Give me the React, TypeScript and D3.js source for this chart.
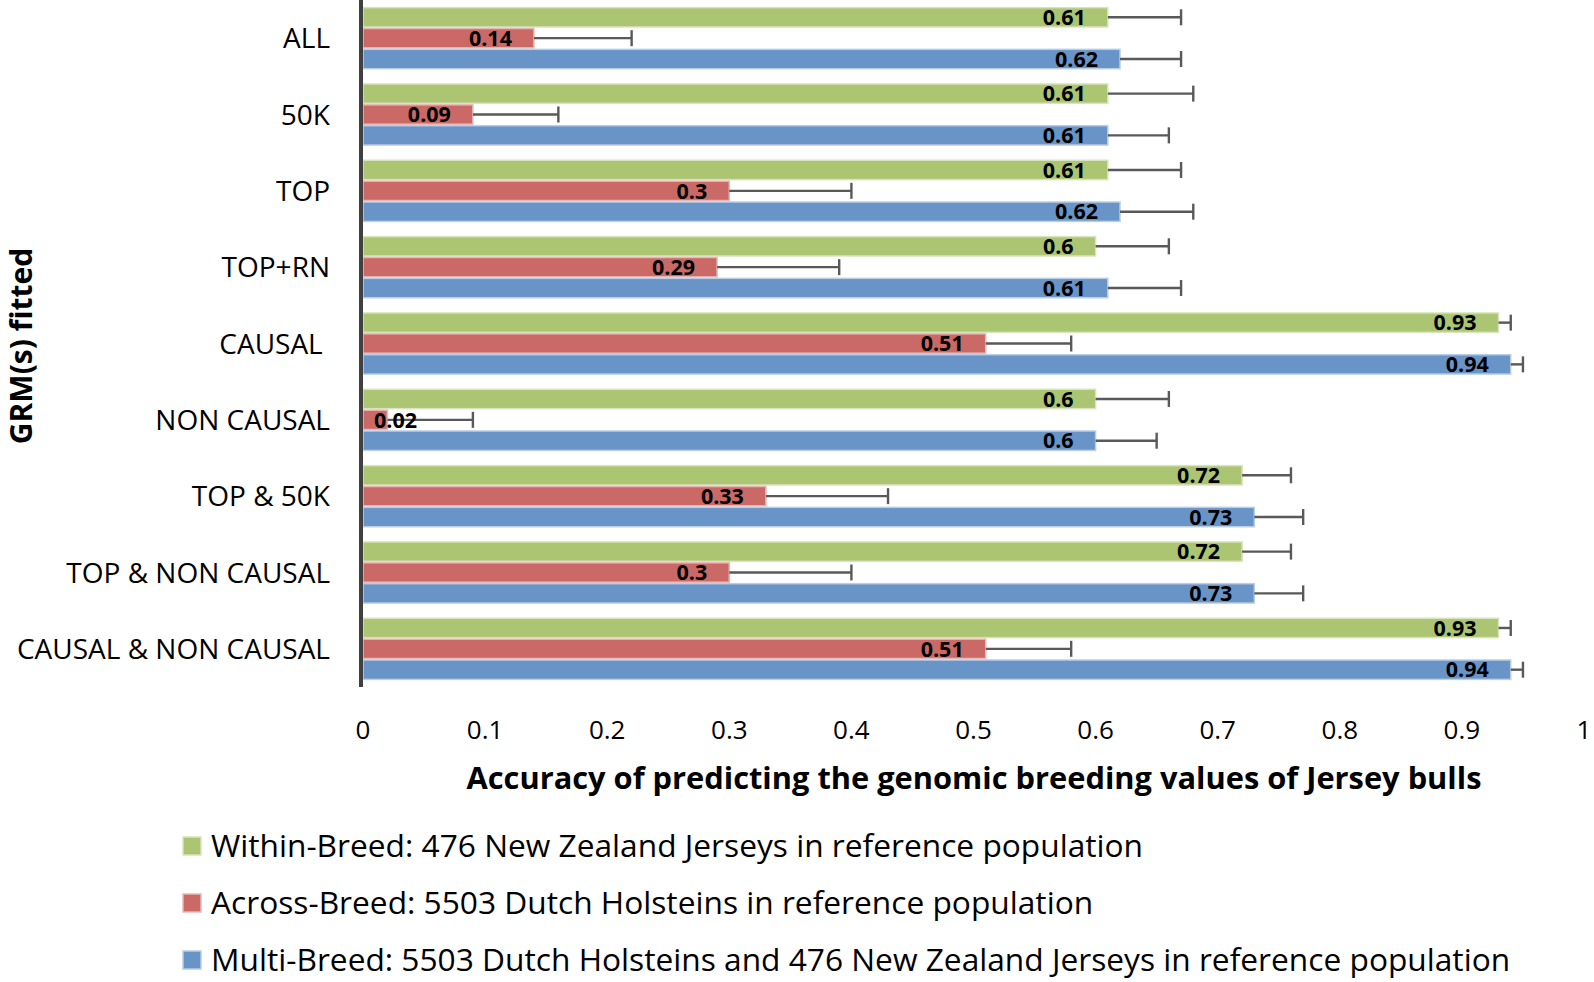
import React from "react";
import * as d3 from "d3";

const categories = ["ALL", "50K", "TOP", "TOP+RN", "CAUSAL ", "NON CAUSAL", "TOP & 50K", "TOP & NON CAUSAL", "CAUSAL & NON CAUSAL"];
const withinValues = [0.61, 0.61, 0.61, 0.6, 0.93, 0.6, 0.72, 0.72, 0.93];
const acrossValues = [0.14, 0.09, 0.3, 0.29, 0.51, 0.02, 0.33, 0.3, 0.51];
const multiValues = [0.62, 0.61, 0.62, 0.61, 0.94, 0.6, 0.73, 0.73, 0.94];
const withinErr = [0.06, 0.07, 0.06, 0.06, 0.01, 0.06, 0.04, 0.04, 0.01];
const acrossErr = [0.08, 0.07, 0.1, 0.1, 0.07, 0.07, 0.1, 0.1, 0.07];
const multiErr = [0.05, 0.05, 0.06, 0.06, 0.01, 0.05, 0.04, 0.04, 0.01];
const xTicks = [0, 0.1, 0.2, 0.3, 0.4, 0.5, 0.6, 0.7, 0.8, 0.9, 1];
const seriesNames = [
  "Within-Breed: 476 New Zealand Jerseys in reference population",
  "Across-Breed: 5503 Dutch Holsteins in reference population",
  "Multi-Breed: 5503 Dutch Holsteins and 476 New Zealand Jerseys in reference population",
];
const seriesFill = ["#ABC572", "#CB6967", "#6894C7"];
const seriesStroke = ["#D7E4BD", "#E6B9B8", "#B9CDE5"];

const FONT = "'Open Sans', 'Noto Sans', sans-serif";

export default function App() {
  const W = 1594, H = 982;
  const x0 = 363, x1 = 1584;
  const yTop = 0, yBot = 687;
  const x = d3.scaleLinear().domain([0, 1]).range([x0, x1]);
  const y = d3.scaleBand<string>().domain(categories).range([yTop, yBot]).paddingInner(0.18).paddingOuter(0.09);
  const series = [
    { values: withinValues, err: withinErr },
    { values: acrossValues, err: acrossErr },
    { values: multiValues, err: multiErr },
  ];
  const sub = d3.scaleBand<number>().domain([0, 1, 2]).range([0, y.bandwidth()]);

  return (
    <svg width={W} height={H} style={{ position: "absolute", left: 0, top: 0, background: "#fff" }} fontFamily={FONT}>
      <rect width={W} height={H} fill="#fff" />
      {categories.map((c, ci) => (
        <g key={c}>
          {series.map((s, si) => {
            const v = s.values[ci];
            const by = (y(c) as number) + (sub(si) as number);
            const bh = sub.bandwidth();
            const xe = x(v + s.err[ci]);
            const cy = by + bh / 2;
            const labelEnd = Math.max(x(v) - 22, x0 + 54);
            return (
              <g key={si}>
                <rect x={x0} y={by + 0.75} width={x(v) - x0} height={bh - 1.5} fill={seriesFill[si]} stroke={seriesStroke[si]} strokeWidth={1.5} />
                <line x1={x(v)} x2={xe} y1={cy} y2={cy} stroke="#595959" strokeWidth={2.4} />
                <line x1={xe} x2={xe} y1={cy - 8} y2={cy + 8} stroke="#595959" strokeWidth={2.4} />
                <text x={labelEnd} y={cy} dy="0.36em" textAnchor="end" fontSize={21.5} fontWeight="bold" fill="#000">
                  {String(v)}
                </text>
              </g>
            );
          })}
          <text x={330} y={(y(c) as number) + y.bandwidth() / 2} dy="0.36em" textAnchor="end" fontSize={28} fill="#000" style={{ whiteSpace: "pre" }}>
            {c}
          </text>
        </g>
      ))}
      <line x1={361} x2={361} y1={0} y2={yBot} stroke="#404040" strokeWidth={4} />
      {xTicks.map((t) => (
        <text key={t} x={x(t)} y={730} dy="0.36em" textAnchor="middle" fontSize={26} fill="#000">
          {String(t)}
        </text>
      ))}
      <text x={974} y={778} dy="0.36em" textAnchor="middle" fontSize={30.8} fontWeight="bold" fill="#000">
        Accuracy of predicting the genomic breeding values of Jersey bulls
      </text>
      <text transform="translate(21,346) rotate(-90)" dy="0.36em" textAnchor="middle" fontSize={30} fontWeight="bold" fill="#000">
        GRM(s) fitted
      </text>
      {seriesNames.map((n, i) => (
        <g key={n}>
          <rect x={183} y={846 + i * 57 - 9} width={18} height={18} fill={seriesFill[i]} stroke={seriesStroke[i]} strokeWidth={1.5} />
          <text x={211} y={846 + i * 57} dy="0.36em" fontSize={31.7} fill="#000">
            {n}
          </text>
        </g>
      ))}
    </svg>
  );
}
